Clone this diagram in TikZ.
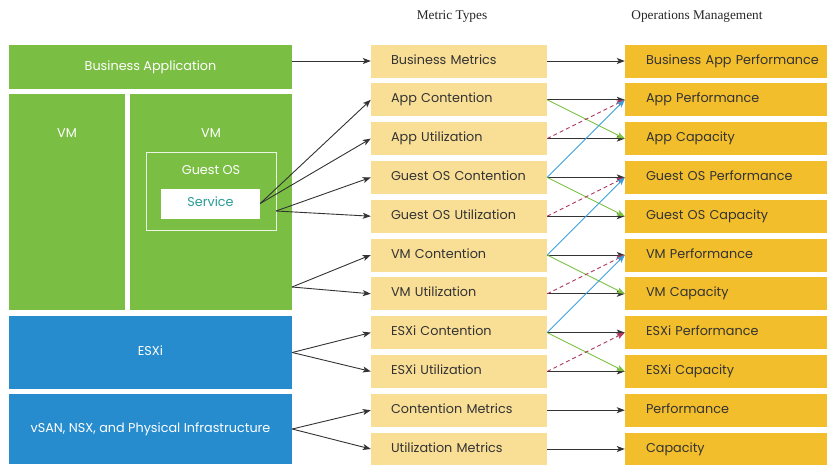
\documentclass[tikz,border=0pt]{standalone}
\usepackage{fontspec}
\setmainfont{Liberation Serif}
\newfontfamily\boxfont{Poppins}
\usetikzlibrary{arrows.meta}
\definecolor{layergreen}{HTML}{7BBE44}
\definecolor{layerblue}{HTML}{268CCD}
\definecolor{metricfill}{HTML}{F9DE96}
\definecolor{opsfill}{HTML}{F3BE2C}
\definecolor{boxtext}{HTML}{333333}
\definecolor{svcteal}{HTML}{2A9D96}
\definecolor{capgreen}{HTML}{7DC142}
\definecolor{perfblue}{HTML}{3BA0DC}
\definecolor{utilred}{HTML}{B0365E}

\begin{document}
\begin{tikzpicture}[x=1pt, y=-1pt,
  layer/.style={rectangle, fill=#1, inner sep=0pt, text=white, text height=9pt, text depth=3pt, font=\boxfont\fontsize{12.8}{15}\selectfont},
  layertext/.style={text=white, inner sep=0pt, text height=9pt, text depth=3pt, font=\boxfont\fontsize{12.8}{15}\selectfont},
  metric/.style={rectangle, fill=metricfill, text=boxtext, minimum height=33pt, inner xsep=0pt, text width=176pt, text height=9pt, text depth=3pt, align=left, execute at begin node={\hspace*{20pt}}, font=\boxfont\fontsize{12.8}{15}\selectfont},
  ops/.style={rectangle, fill=opsfill, text=boxtext, minimum height=33pt, inner xsep=0pt, text width=202pt, text height=9pt, text depth=3pt, align=left, execute at begin node={\hspace*{21pt}}, font=\boxfont\fontsize{12.8}{15}\selectfont},
  flow/.style={-{Stealth[length=8pt, width=6pt, inset=2pt]}, draw=boxtext, line width=0.9pt},
  cross/.style={-{Stealth[length=8pt, width=6pt, inset=2pt]}, draw=#1, line width=0.9pt}]
\useasboundingbox (0,0) rectangle (830,464);
%%%%%%%%%%%%%%%%%%%
\node[font=\fontsize{13.3}{15}\selectfont, text=black!85] (mthead) at (452,17) {Metric Types};
\node[font=\fontsize{13.3}{15}\selectfont, text=black!85] (opshead) at (697,17) {Operations Management};

%%%%%%%%%%%%%%%%%%%
\node[layer=layergreen, minimum width=283pt, minimum height=44pt] (bapp) at (150.5,67) {Business Application};
\node[layer=layergreen, minimum width=116pt, minimum height=216pt] (vml) at (67,202) {};
\node[layer=layergreen, minimum width=162pt, minimum height=216pt] (vmr) at (211,202) {};
\node[layertext] (vmltxt) at (67,134) {VM};
\node[layertext] (vmrtxt) at (211,134) {VM};
\node[rectangle, draw=white!85!layergreen, line width=1pt, minimum width=130pt, minimum height=78pt] (gos) at (211,191) {};
\node[layertext] (gostxt) at (211,171) {Guest OS};
\node[layer=white, text=svcteal, minimum width=99pt, minimum height=30pt] (svc) at (210.5,203.5) {Service};
\node[layer=layerblue, minimum width=283pt, minimum height=73pt] (esxi) at (150.5,352.5) {ESXi};
\node[layer=layerblue, minimum width=283pt, minimum height=70pt] (vsan) at (150.5,429) {vSAN, NSX, and Physical Infrastructure};

%%%%%%%%%%%%%%%%%%%
\node[metric] (bm) at (459,61) {Business Metrics};
\node[metric] (ac) at (459,99.8) {App Contention};
\node[metric] (au) at (459,138.6) {App Utilization};
\node[metric] (gc) at (459,177.4) {Guest OS Contention};
\node[metric] (gu) at (459,216.2) {Guest OS Utilization};
\node[metric] (vc) at (459,255) {VM Contention};
\node[metric] (vu) at (459,293.8) {VM Utilization};
\node[metric] (ec) at (459,332.6) {ESXi Contention};
\node[metric] (eu) at (459,371.4) {ESXi Utilization};
\node[metric] (cm) at (459,410.2) {Contention Metrics};
\node[metric] (um) at (459,449) {Utilization Metrics};

\node[ops] (bap) at (726,61) {Business App Performance};
\node[ops] (ap) at (726,99.8) {App Performance};
\node[ops] (acap) at (726,138.6) {App Capacity};
\node[ops] (gp) at (726,177.4) {Guest OS Performance};
\node[ops] (gcap) at (726,216.2) {Guest OS Capacity};
\node[ops] (vp) at (726,255) {VM Performance};
\node[ops] (vcap) at (726,293.8) {VM Capacity};
\node[ops] (ep) at (726,332.6) {ESXi Performance};
\node[ops] (ecap) at (726,371.4) {ESXi Capacity};
\node[ops] (perf) at (726,410.2) {Performance};
\node[ops] (cap) at (726,449) {Capacity};

%%%%%%%%%%%%%%%%%%%
\coordinate (gosout) at (276,211);
\coordinate (vmout) at (292,287);
\draw[flow] (bapp.east |- bm.west) -- (bm.west);
\draw[flow] (svc.east) -- (ac.west);
\draw[flow] (svc.east) -- (au.west);
\draw[flow] (gosout) -- (gc.west);
\draw[flow] (gosout) -- (gu.west);
\draw[flow] (vmout) -- (vc.west);
\draw[flow] (vmout) -- (vu.west);
\draw[flow] (esxi.east) -- (ec.west);
\draw[flow] (esxi.east) -- (eu.west);
\draw[flow] (vsan.east) -- (cm.west);
\draw[flow] (vsan.east) -- (um.west);

%%%%%%%%%%%%%%%%%%%
\draw[flow] (bm.east) -- (bap.west);
\draw[flow] (ac.east) -- (ap.west);
\draw[flow] (au.east) -- (acap.west);
\draw[flow] (gc.east) -- (gp.west);
\draw[flow] (gu.east) -- (gcap.west);
\draw[flow] (vc.east) -- (vp.west);
\draw[flow] (vu.east) -- (vcap.west);
\draw[flow] (ec.east) -- (ep.west);
\draw[flow] (eu.east) -- (ecap.west);
\draw[flow] (cm.east) -- (perf.west);
\draw[flow] (um.east) -- (cap.west);

%%%%%%%%%%%%%%%%%%%
\draw[cross=capgreen] (ac.east) -- (acap.west);
\draw[cross=capgreen] (gc.east) -- (gcap.west);
\draw[cross=capgreen] (vc.east) -- (vcap.west);
\draw[cross=capgreen] (ec.east) -- (ecap.west);
\draw[cross=utilred, dash pattern=on 4pt off 3pt] (au.east) -- (ap.west);
\draw[cross=utilred, dash pattern=on 4pt off 3pt] (gu.east) -- (gp.west);
\draw[cross=utilred, dash pattern=on 4pt off 3pt] (vu.east) -- (vp.west);
\draw[cross=utilred, dash pattern=on 4pt off 3pt] (eu.east) -- (ep.west);
\draw[cross=perfblue] (gc.east) -- (ap.west);
\draw[cross=perfblue] (vc.east) -- (gp.west);
\draw[cross=perfblue] (ec.east) -- (vp.west);
\end{tikzpicture}
\end{document}
